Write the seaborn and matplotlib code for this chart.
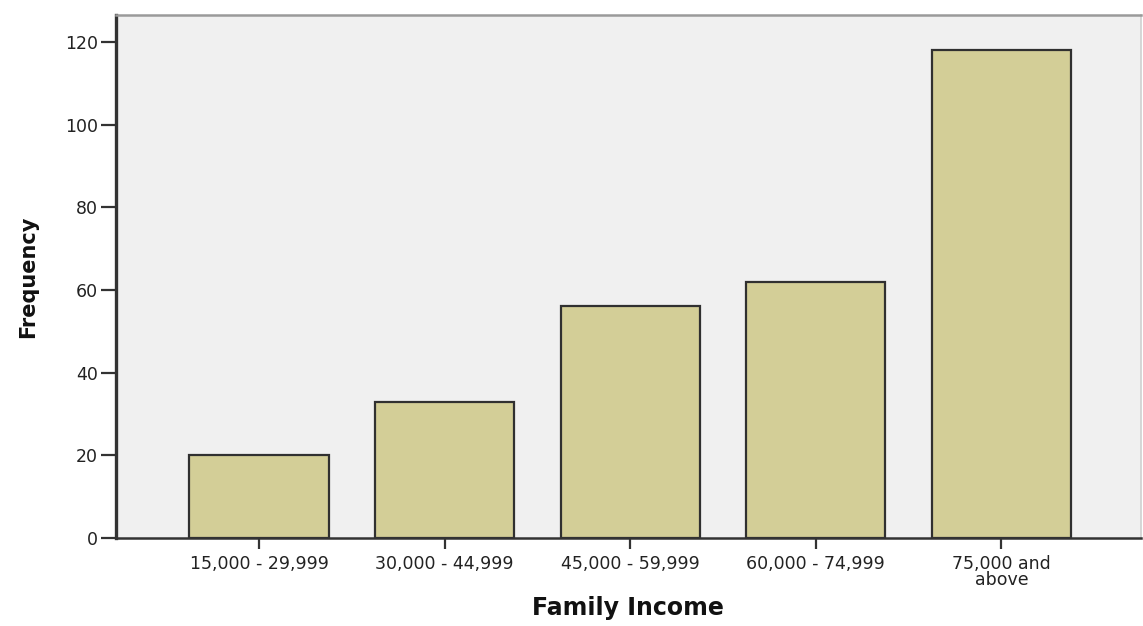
import matplotlib
matplotlib.use("Agg")
import matplotlib.pyplot as plt
import seaborn as sns
import pandas as pd

# data
income_groups = ["15,000 - 29,999", "30,000 - 44,999", "45,000 - 59,999",
                 "60,000 - 74,999", "75,000 and\nabove"]
frequency = [20, 33, 56, 62, 118]
y_ticks = [0, 20, 40, 60, 80, 100, 120]

df = pd.DataFrame({"Family Income": income_groups, "Frequency": frequency})

sns.set_style("white")
plt.rcParams["font.family"] = ["DejaVu Sans"]

fig = plt.figure(figsize=(11.43, 6.26), dpi=100)
ax = fig.add_axes([0.1015, 0.1406, 0.8965, 0.8354])
ax.set_facecolor("#f0f0f0")

sns.barplot(data=df, x="Family Income", y="Frequency", color="#d3ce97",
            saturation=1, width=0.75, edgecolor="#303030", linewidth=1.6, ax=ax)

ax.set_xlim(-0.77, 4.75)
ax.set_ylim(0, 126.5)
ax.set_yticks(y_ticks)

# spines like the SPSS output
ax.spines["left"].set_color("#333333")
ax.spines["left"].set_linewidth(2.4)
ax.spines["bottom"].set_color("#333333")
ax.spines["bottom"].set_linewidth(1.8)
ax.spines["top"].set_color("#9a9a9a")
ax.spines["top"].set_linewidth(1.8)
ax.spines["right"].set_color("#d0d0d0")
ax.spines["right"].set_linewidth(1.2)

ax.tick_params(axis="y", direction="out", length=11, width=1.6, color="#333333",
               pad=2, labelsize=12.5, labelcolor="#222222", left=True)
ax.tick_params(axis="x", direction="out", length=8, width=1.6, color="#333333",
               pad=4, labelsize=12.5, labelcolor="#222222", bottom=True)
for lbl in ax.get_xticklabels():
    lbl.set_linespacing(0.85)

ax.set_ylabel("Frequency", fontsize=15, fontweight="bold", color="#111111")
ax.set_xlabel("Family Income", fontsize=17, fontweight="bold", color="#111111")
ax.yaxis.set_label_coords(-0.076, 0.5)
ax.xaxis.set_label_coords(0.5, -0.11)

fig.savefig("out.png", dpi=100, facecolor="white")
